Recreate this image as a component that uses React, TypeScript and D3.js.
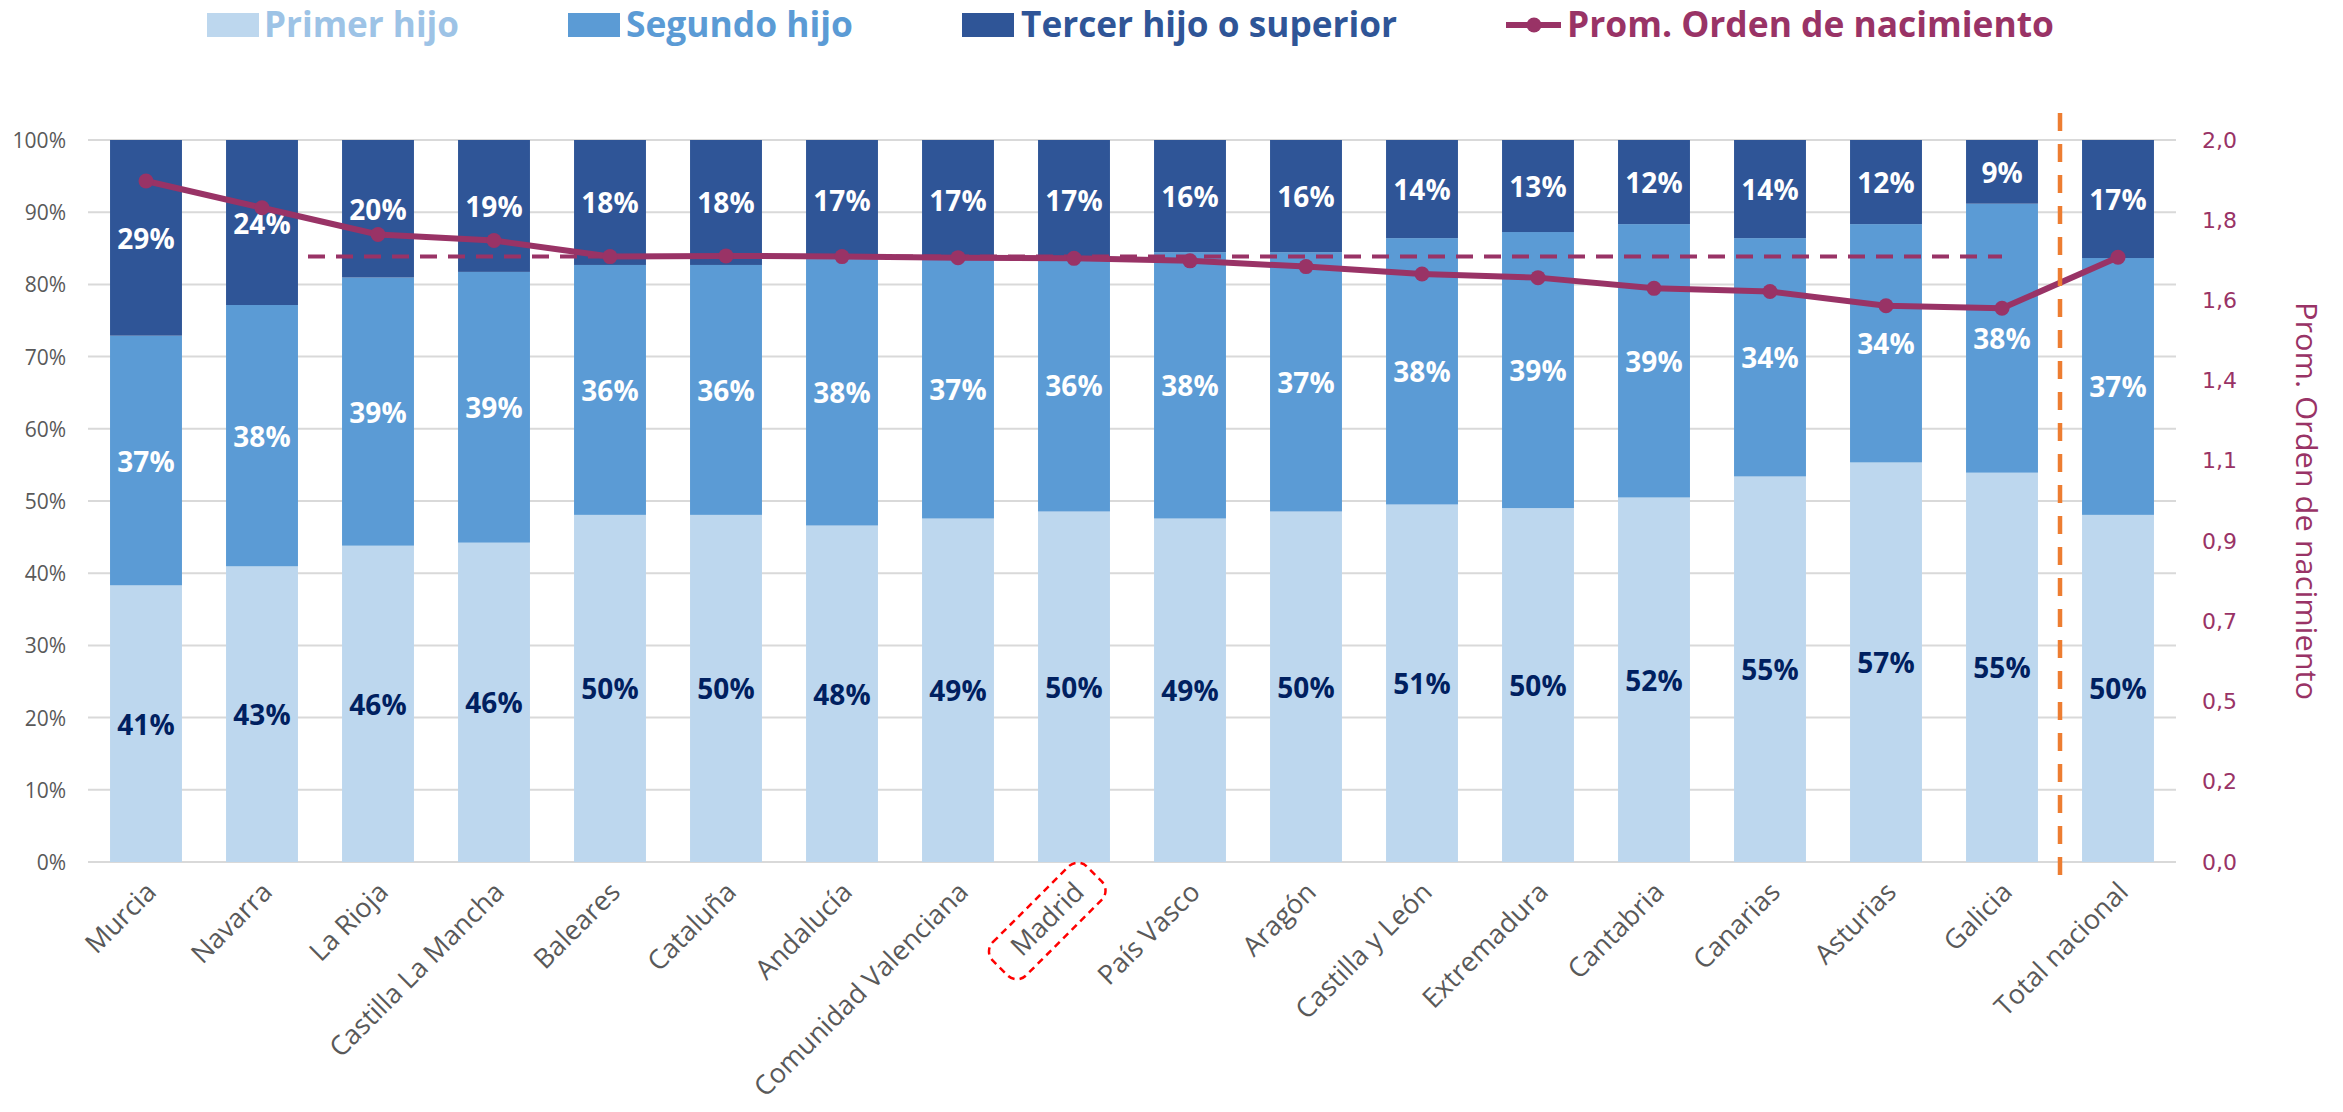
import React from "react";
import * as d3 from "d3";

const categories = [
  "Murcia", "Navarra", "La Rioja", "Castilla La Mancha", "Baleares", "Cataluña",
  "Andalucía", "Comunidad Valenciana", "Madrid", "País Vasco", "Aragón",
  "Castilla y León", "Extremadura", "Cantabria", "Canarias", "Asturias", "Galicia",
  "Total nacional",
];
const primerHijo = [41, 43, 46, 46, 50, 50, 48, 49, 50, 49, 50, 51, 50, 52, 55, 57, 55, 50];
const segundoHijo = [37, 38, 39, 39, 36, 36, 38, 37, 36, 38, 37, 38, 39, 39, 34, 34, 38, 37];
const tercerHijo = [29, 24, 20, 19, 18, 18, 17, 17, 17, 16, 16, 14, 13, 12, 14, 12, 9, 17];
const promOrden = [1.91, 1.835, 1.76, 1.743, 1.698, 1.7, 1.698, 1.695, 1.693, 1.686, 1.67, 1.649, 1.639, 1.609, 1.6, 1.56, 1.553, 1.696];
const referenceValue = 1.698;
const leftTicks = [0, 0.1, 0.2, 0.3, 0.4, 0.5, 0.6, 0.7, 0.8, 0.9, 1.0];
const rightTickLabels = ["0,0", "0,2", "0,5", "0,7", "0,9", "1,1", "1,4", "1,6", "1,8", "2,0"];
const rightMax = 2.025;
const highlighted = "Madrid";
const separatorBefore = "Total nacional";

const seriesNames = ["Primer hijo", "Segundo hijo", "Tercer hijo o superior"];
const seriesColors = ["#BDD7EE", "#5B9BD5", "#2F5597"];
const legendTextColors = ["#9DC3E6", "#5B9BD5", "#2F5597"];
const labelColors = ["#002060", "#FFFFFF", "#FFFFFF"];
const lineColor = "#993366";
const lineName = "Prom. Orden de nacimiento";

const W = 2343;
const H = 1112;
const plotLeft = 88;
const plotRight = 2176;
const plotTop = 140;
const plotBottom = 862;

export default function App() {
  const x = d3.scaleBand<string>().domain(categories).range([plotLeft, plotRight]).paddingInner(0.38).paddingOuter(0.19);
  const y = d3.scaleLinear().domain([0, 1]).range([plotBottom, plotTop]);
  const yR = d3.scaleLinear().domain([0, rightMax]).range([plotBottom, plotTop]);
  const bw = x.bandwidth();
  const step = x.step();

  const rows = categories.map((c, i) => {
    const vals = [primerHijo[i], segundoHijo[i], tercerHijo[i]];
    const total = d3.sum(vals);
    return { c, vals, total };
  });
  const stackData = rows.map((r) => ({ c: r.c, s0: r.vals[0] / r.total, s1: r.vals[1] / r.total, s2: r.vals[2] / r.total }));
  const stack = d3.stack<any>().keys(["s0", "s1", "s2"]);
  const series = stack(stackData);

  const line = d3
    .line<number>()
    .x((_, i) => (x(categories[i]) as number) + bw / 2)
    .y((d) => yR(d));

  const sepX = (x(separatorBefore) as number) - (step - bw) / 2;
  const refStart = (x("La Rioja") as number) - (step - bw) / 2 - 12;
  const refEnd = (x("Galicia") as number) + bw / 2;

  const rightTickVals = rightTickLabels.map((_, i) => (rightMax / (rightTickLabels.length - 1)) * i);

  return (
    <svg width={W} height={H} style={{ position: "absolute", left: 0, top: 0, background: "#fff" }} fontFamily="'Open Sans', sans-serif">
      {leftTicks.map((t) => (
        <line key={t} x1={plotLeft} x2={plotRight} y1={y(t)} y2={y(t)} stroke="#D9D9D9" strokeWidth={2} />
      ))}
      {leftTicks.map((t) => (
        <text key={"l" + t} x={66} y={y(t)} textAnchor="end" dominantBaseline="central" fontSize={21} fill="#595959">
          {d3.format(".0%")(t)}
        </text>
      ))}
      {rightTickLabels.map((lab, i) => (
        <text key={"r" + i} x={2202} y={yR(rightTickVals[i])} dominantBaseline="central" fontSize={22} fill={lineColor} fontFamily="'DejaVu Sans', sans-serif">
          {lab}
        </text>
      ))}
      <text
        transform={`translate(2296, ${(plotTop + plotBottom) / 2}) rotate(90)`}
        textAnchor="middle"
        fontSize={30}
        fill={lineColor}
        textLength={398}
        lengthAdjust="spacingAndGlyphs"
      >
        {lineName}
      </text>

      {series.map((s, k) => (
        <g key={k}>
          {s.map((d: any, i: number) => (
            <rect key={i} x={x(categories[i])} width={bw} y={y(d[1])} height={y(d[0]) - y(d[1])} fill={seriesColors[k]} />
          ))}
        </g>
      ))}
      {series.map((s, k) => (
        <g key={"t" + k}>
          {s.map((d: any, i: number) => (
            <text
              key={i}
              x={(x(categories[i]) as number) + bw / 2}
              y={y((d[0] + d[1]) / 2)}
              textAnchor="middle"
              dominantBaseline="central"
              fontSize={28}
              fontWeight={700}
              fill={labelColors[k]}
            >
              {rows[i].vals[k]}%
            </text>
          ))}
        </g>
      ))}

      <line x1={refStart} x2={refEnd} y1={yR(referenceValue)} y2={yR(referenceValue)} stroke={lineColor} strokeWidth={4} strokeDasharray="17 11" />

      <path d={line(promOrden) || ""} fill="none" stroke={lineColor} strokeWidth={6} strokeLinejoin="round" />
      {promOrden.map((v, i) => (
        <circle key={i} cx={(x(categories[i]) as number) + bw / 2} cy={yR(v)} r={7.5} fill={lineColor} />
      ))}

      <line x1={sepX} x2={sepX} y1={113} y2={884} stroke="#ED7D31" strokeWidth={4.5} strokeDasharray="18 13" />

      {categories.map((c) => {
        const cx = (x(c) as number) + bw / 2;
        return (
          <g key={c} transform={`translate(${cx - 2}, 880) rotate(-45)`}>
            <text textAnchor="end" dy="0.72em" fontSize={27} fill="#595959">
              {c}
            </text>
            {c === highlighted && (
              <rect x={-113} y={-12} width={133} height={47} rx={13} fill="none" stroke="#FF0000" strokeWidth={2.5} strokeDasharray="7 5" />
            )}
          </g>
        );
      })}

      <g fontWeight={700} fontSize={35}>
        {[
          { sx: 207, tx: 264, tl: 195 },
          { sx: 568, tx: 626, tl: 227 },
          { sx: 962, tx: 1021, tl: 376 },
        ].map((p, k) => (
          <g key={k}>
            <rect x={p.sx} y={13} width={52} height={24} fill={seriesColors[k]} />
            <text x={p.tx} y={37} fill={legendTextColors[k]} textLength={p.tl} lengthAdjust="spacingAndGlyphs">
              {seriesNames[k]}
            </text>
          </g>
        ))}
        <line x1={1506} x2={1561} y1={25} y2={25} stroke={lineColor} strokeWidth={6} />
        <circle cx={1534} cy={25} r={7.5} fill={lineColor} />
        <text x={1567} y={37} fill={lineColor} textLength={487} lengthAdjust="spacingAndGlyphs">
          {lineName}
        </text>
      </g>
    </svg>
  );
}
